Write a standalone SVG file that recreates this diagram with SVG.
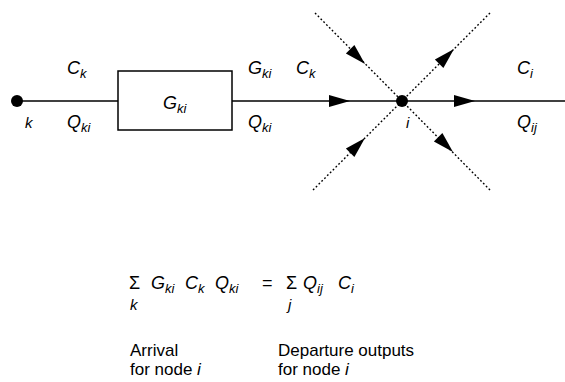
<svg xmlns="http://www.w3.org/2000/svg" xmlns:xlink="http://www.w3.org/1999/xlink" width="565" height="382" viewBox="0 0 565 382">
<style>
.ln{stroke:#000;stroke-width:1.5;fill:none}
.dot{stroke:#000;stroke-width:1.4;stroke-dasharray:1.8 2.2;fill:none}
.t{font-family:"Liberation Sans",Arial,sans-serif;font-size:18px;fill:#000}
.b{font-size:17px}
.v{font-style:italic}
.s{font-size:13px}
.lbl{font-family:"Liberation Sans",Arial,sans-serif;font-size:15px;font-style:italic;fill:#000}
</style>
<defs>
<path id="ah" d="M0,0 L-21,-6 L-21,6 Z" fill="#000"/>
</defs>
<rect width="565" height="382" fill="#fff"/>
<g id="connectors">
<line class="ln" x1="17" y1="101" x2="118" y2="101"/>
<line class="ln" x1="232" y1="101" x2="565" y2="101"/>
<line class="dot" x1="315" y1="13" x2="402" y2="101"/>
<line class="dot" x1="490" y1="13" x2="402" y2="101"/>
<line class="dot" x1="313" y1="190" x2="402" y2="101"/>
<line class="dot" x1="490" y1="190" x2="402" y2="101"/>
<use xlink:href="#ah" transform="translate(350,101)"/>
<use xlink:href="#ah" transform="translate(475,101)"/>
<use xlink:href="#ah" transform="translate(365,64) rotate(45)"/>
<use xlink:href="#ah" transform="translate(454,49) rotate(-45)"/>
<use xlink:href="#ah" transform="translate(453,152) rotate(45)"/>
<use xlink:href="#ah" transform="translate(365,138) rotate(-45)"/>
</g>
<g id="node-k">
<circle cx="17" cy="101" r="6" fill="#000"/>
<text class="lbl" x="25" y="128">k</text>
</g>
<g id="node-G">
<rect class="ln" x="118" y="71" width="114" height="59"/>
<text class="t v" x="163" y="109">G<tspan class="s" dy="4">ki</tspan></text>
</g>
<g id="node-i">
<circle cx="402" cy="101" r="6" fill="#000"/>
<text class="lbl" x="406" y="128">i</text>
</g>
<g id="labels">
<text class="t v" x="67" y="74">C<tspan class="s" dy="4">k</tspan></text>
<text class="t v" x="67" y="128">Q<tspan class="s" dy="4">ki</tspan></text>
<text class="t v" x="248" y="74">G<tspan class="s" dy="4">ki</tspan></text>
<text class="t v" x="296" y="74">C<tspan class="s" dy="4">k</tspan></text>
<text class="t v" x="248" y="128">Q<tspan class="s" dy="4">ki</tspan></text>
<text class="t v" x="517" y="74">C<tspan class="s" dy="4">i</tspan></text>
<text class="t v" x="517" y="128">Q<tspan class="s" dy="4">ij</tspan></text>
</g>
<g id="equation">
<text class="t" x="129" y="289">Σ</text>
<text class="t v" x="151" y="289">G<tspan class="s" dy="4">ki</tspan></text>
<text class="t v" x="185" y="289">C<tspan class="s" dy="4">k</tspan></text>
<text class="t v" x="215" y="289">Q<tspan class="s" dy="4">ki</tspan></text>
<text class="t" x="262" y="289">=</text>
<text class="t" x="286" y="289">Σ</text>
<text class="t v" x="303" y="289">Q<tspan class="s" dy="4">ij</tspan></text>
<text class="t v" x="338" y="289">C<tspan class="s" dy="4">i</tspan></text>
<text class="lbl" x="130" y="310">k</text>
<text class="lbl" x="288" y="310">j</text>
<text class="t b" x="130" y="356">Arrival</text>
<text class="t b" x="130" y="375">for node <tspan class="v">i</tspan></text>
<text class="t b" x="278" y="356">Departure outputs</text>
<text class="t b" x="278" y="375">for node <tspan class="v">i</tspan></text>
</g>
</svg>
